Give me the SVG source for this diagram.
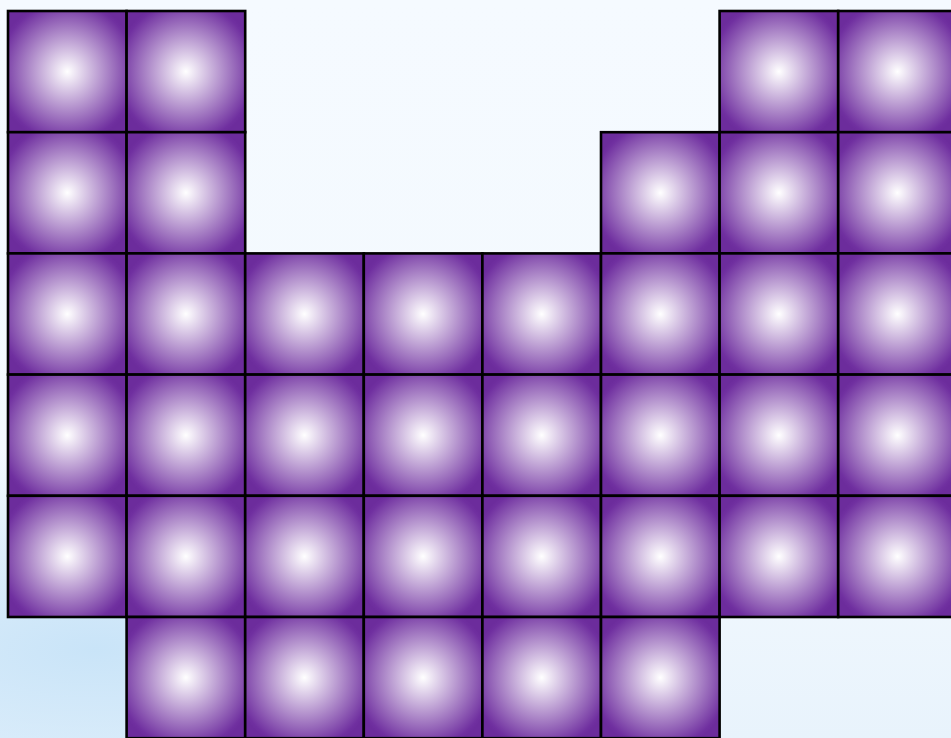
<svg xmlns="http://www.w3.org/2000/svg" width="951" height="738" viewBox="0 0 951 738">
<defs>
<linearGradient id="bg" x1="0" y1="0" x2="0" y2="1">
<stop offset="0" stop-color="#f5faff"/>
<stop offset="0.7" stop-color="#f3f9fe"/>
<stop offset="1" stop-color="#e8f3fc"/>
</linearGradient>
<radialGradient id="bgblue" cx="0.1" cy="0.88" r="0.55" gradientTransform="translate(0.1 0.88) scale(1 0.5) translate(-0.1 -0.88)">
<stop offset="0" stop-color="#c9e4f8" stop-opacity="1"/>
<stop offset="1" stop-color="#c9e4f8" stop-opacity="0"/>
</radialGradient>
<radialGradient id="cell" cx="0.5" cy="0.5" r="0.6">
<stop offset="0" stop-color="#ffffff"/>
<stop offset="0.95" stop-color="#7030a0"/>
<stop offset="1" stop-color="#6c2c9c"/>
</radialGradient>
<style>
.c{fill:url(#cell);stroke:#000;stroke-width:2.6}
</style>
</defs>
<rect width="951" height="738" fill="url(#bg)"/>
<rect width="951" height="738" fill="url(#bgblue)"/>
<g id="cells">
<g id="r0c0"><rect class="c" x="8" y="11" width="118.6" height="121.2"/></g>
<g id="r0c1"><rect class="c" x="126.6" y="11" width="118.6" height="121.2"/></g>
<g id="r0c6"><rect class="c" x="719.6" y="11" width="118.6" height="121.2"/></g>
<g id="r0c7"><rect class="c" x="838.2" y="11" width="118.6" height="121.2"/></g>
<g id="r1c0"><rect class="c" x="8" y="132.2" width="118.6" height="121.2"/></g>
<g id="r1c1"><rect class="c" x="126.6" y="132.2" width="118.6" height="121.2"/></g>
<g id="r1c5"><rect class="c" x="601" y="132.2" width="118.6" height="121.2"/></g>
<g id="r1c6"><rect class="c" x="719.6" y="132.2" width="118.6" height="121.2"/></g>
<g id="r1c7"><rect class="c" x="838.2" y="132.2" width="118.6" height="121.2"/></g>
<g id="r2c0"><rect class="c" x="8" y="253.4" width="118.6" height="121.2"/></g>
<g id="r2c1"><rect class="c" x="126.6" y="253.4" width="118.6" height="121.2"/></g>
<g id="r2c2"><rect class="c" x="245.2" y="253.4" width="118.6" height="121.2"/></g>
<g id="r2c3"><rect class="c" x="363.8" y="253.4" width="118.6" height="121.2"/></g>
<g id="r2c4"><rect class="c" x="482.4" y="253.4" width="118.6" height="121.2"/></g>
<g id="r2c5"><rect class="c" x="601" y="253.4" width="118.6" height="121.2"/></g>
<g id="r2c6"><rect class="c" x="719.6" y="253.4" width="118.6" height="121.2"/></g>
<g id="r2c7"><rect class="c" x="838.2" y="253.4" width="118.6" height="121.2"/></g>
<g id="r3c0"><rect class="c" x="8" y="374.6" width="118.6" height="121.2"/></g>
<g id="r3c1"><rect class="c" x="126.6" y="374.6" width="118.6" height="121.2"/></g>
<g id="r3c2"><rect class="c" x="245.2" y="374.6" width="118.6" height="121.2"/></g>
<g id="r3c3"><rect class="c" x="363.8" y="374.6" width="118.6" height="121.2"/></g>
<g id="r3c4"><rect class="c" x="482.4" y="374.6" width="118.6" height="121.2"/></g>
<g id="r3c5"><rect class="c" x="601" y="374.6" width="118.6" height="121.2"/></g>
<g id="r3c6"><rect class="c" x="719.6" y="374.6" width="118.6" height="121.2"/></g>
<g id="r3c7"><rect class="c" x="838.2" y="374.6" width="118.6" height="121.2"/></g>
<g id="r4c0"><rect class="c" x="8" y="495.8" width="118.6" height="121.2"/></g>
<g id="r4c1"><rect class="c" x="126.6" y="495.8" width="118.6" height="121.2"/></g>
<g id="r4c2"><rect class="c" x="245.2" y="495.8" width="118.6" height="121.2"/></g>
<g id="r4c3"><rect class="c" x="363.8" y="495.8" width="118.6" height="121.2"/></g>
<g id="r4c4"><rect class="c" x="482.4" y="495.8" width="118.6" height="121.2"/></g>
<g id="r4c5"><rect class="c" x="601" y="495.8" width="118.6" height="121.2"/></g>
<g id="r4c6"><rect class="c" x="719.6" y="495.8" width="118.6" height="121.2"/></g>
<g id="r4c7"><rect class="c" x="838.2" y="495.8" width="118.6" height="121.2"/></g>
<g id="r5c1"><rect class="c" x="126.6" y="617" width="118.6" height="121.2"/></g>
<g id="r5c2"><rect class="c" x="245.2" y="617" width="118.6" height="121.2"/></g>
<g id="r5c3"><rect class="c" x="363.8" y="617" width="118.6" height="121.2"/></g>
<g id="r5c4"><rect class="c" x="482.4" y="617" width="118.6" height="121.2"/></g>
<g id="r5c5"><rect class="c" x="601" y="617" width="118.6" height="121.2"/></g>
</g>
<g id="connectors"/>
</svg>
